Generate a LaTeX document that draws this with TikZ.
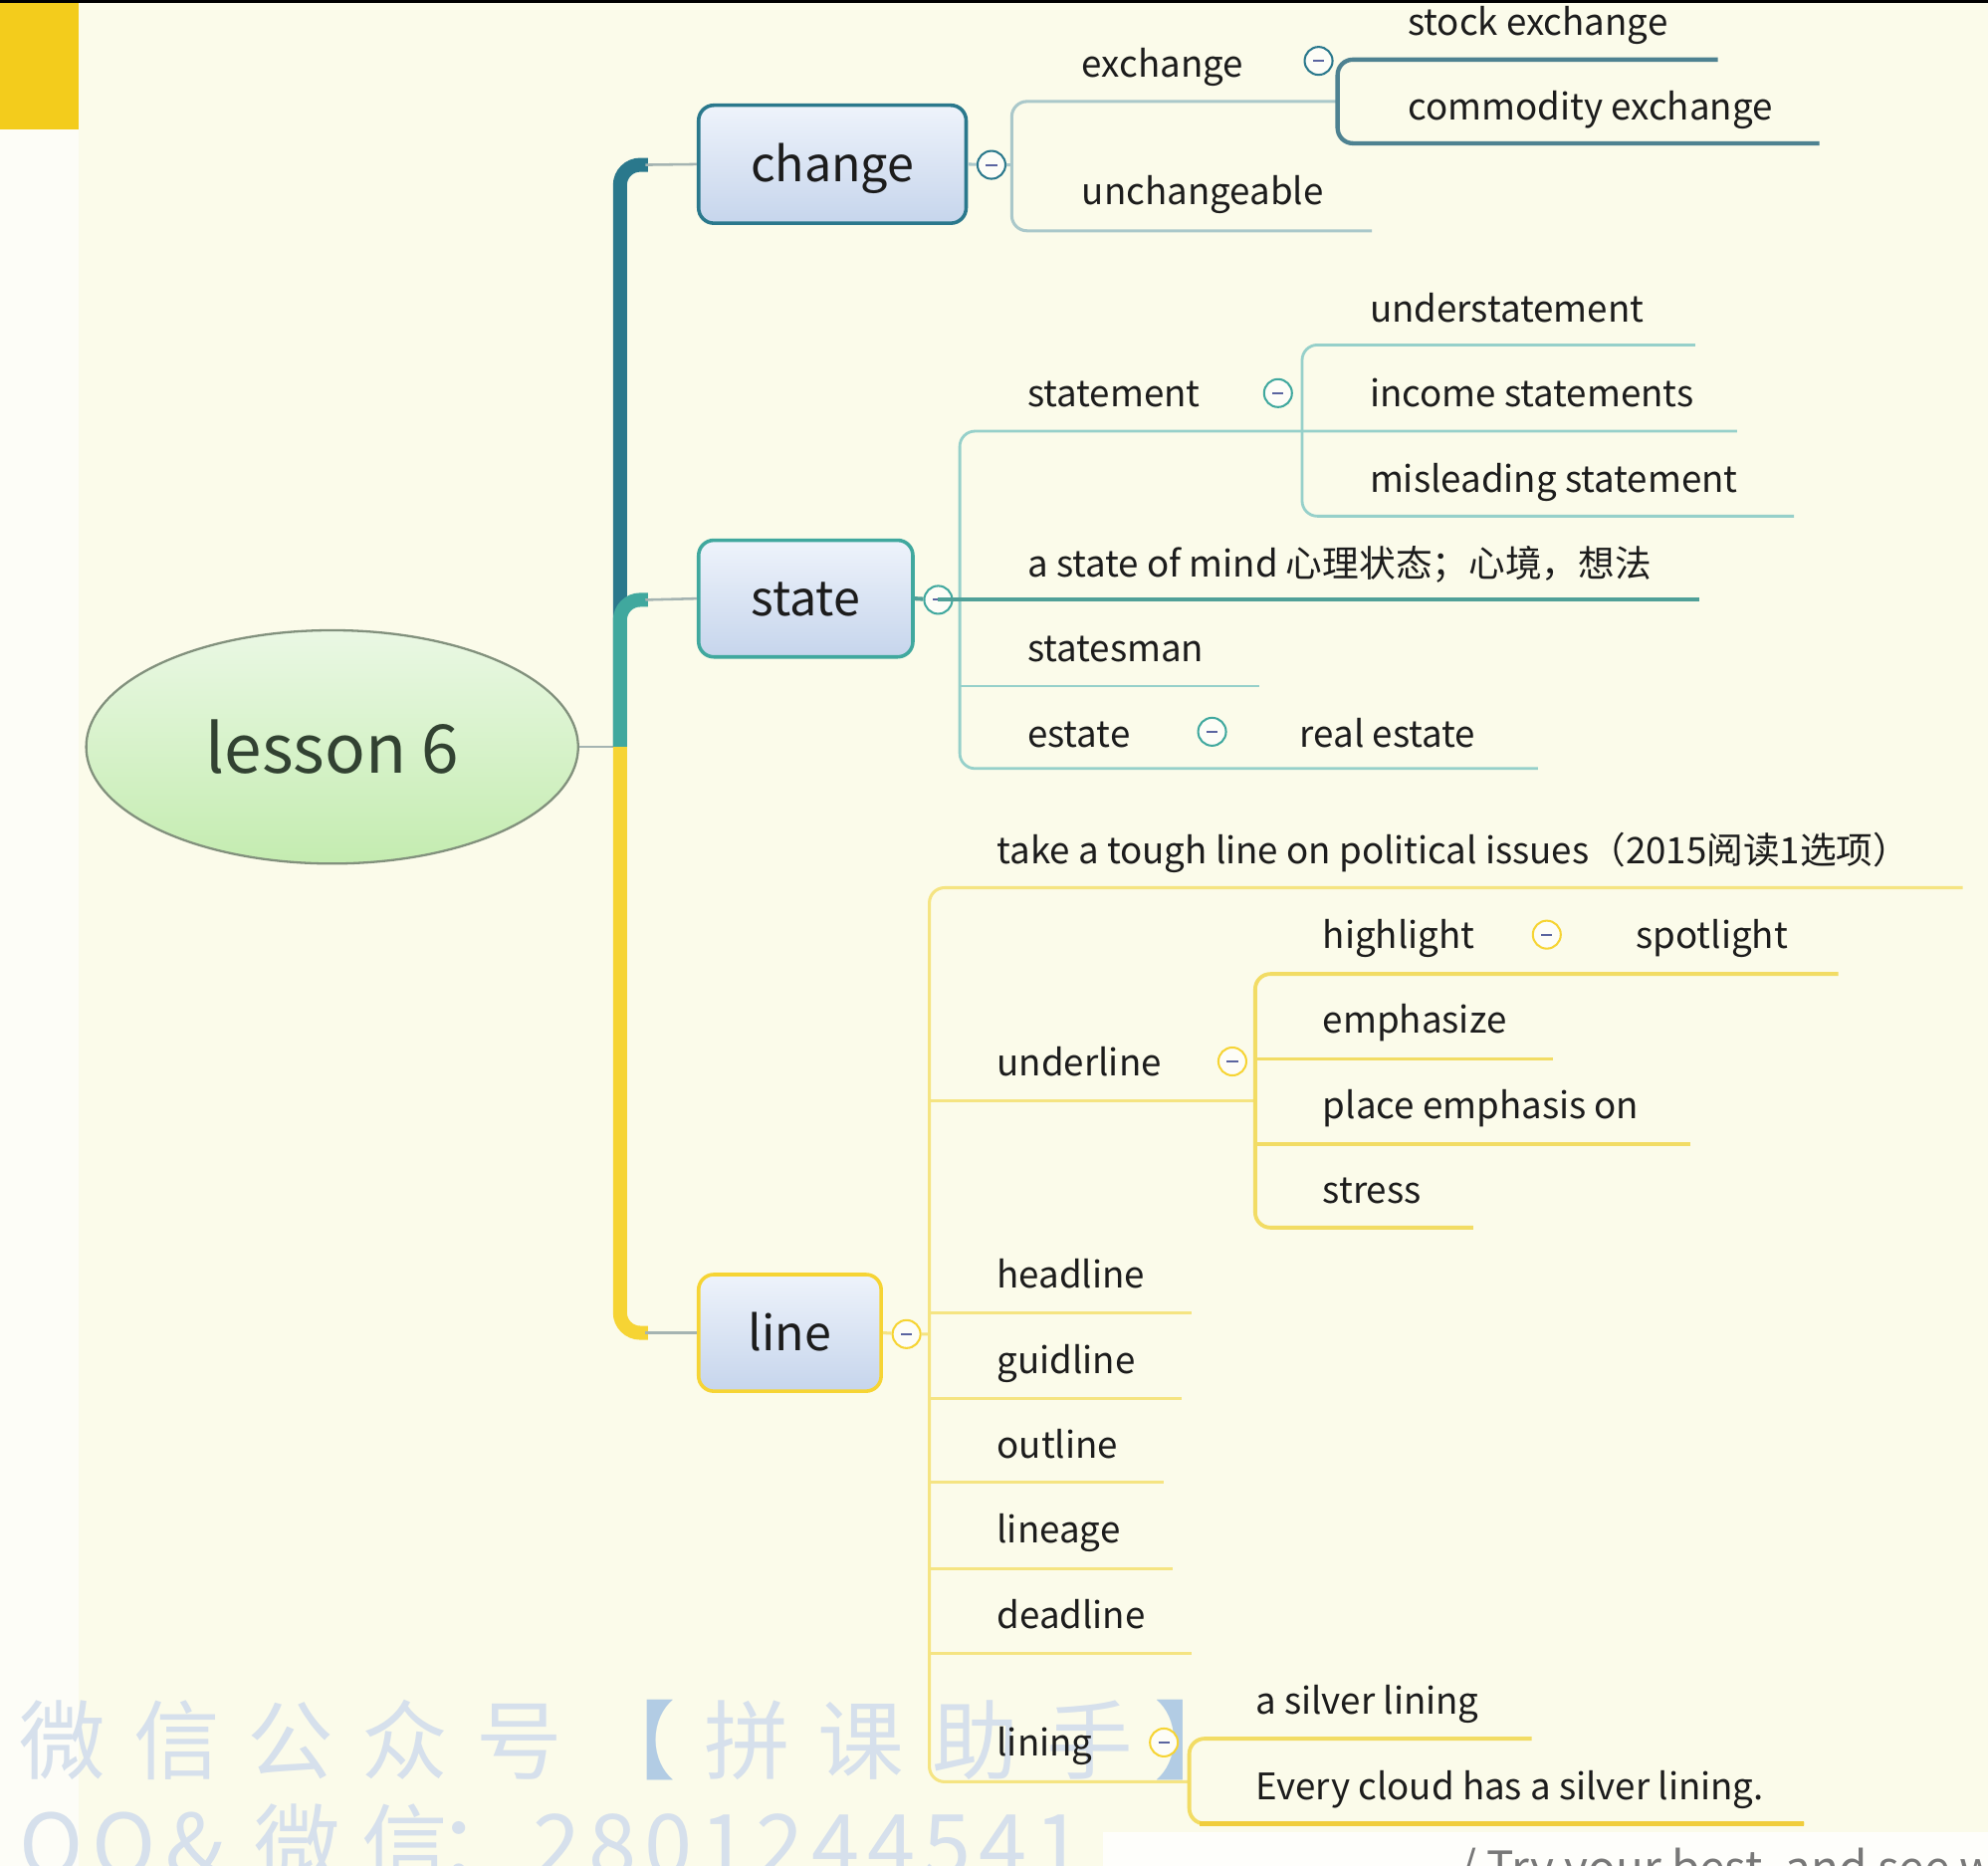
\documentclass[tikz,border=0pt]{standalone}
\usepackage{fontspec}
\setmainfont{Noto Sans CJK SC}
\usetikzlibrary{shapes.geometric}
\definecolor{cream}{RGB}{251,251,234}
\definecolor{leftw}{RGB}{253,253,247}
\definecolor{ybox}{RGB}{243,204,28}
\definecolor{txtc}{RGB}{28,28,28}
\definecolor{chgc}{RGB}{42,120,140}
\definecolor{stc}{RGB}{64,168,158}
\definecolor{lnc}{RGB}{246,212,52}
\definecolor{linkc}{RGB}{165,180,178}
\definecolor{cA}{RGB}{170,200,202}
\definecolor{cB}{RGB}{78,130,145}
\definecolor{sA}{RGB}{150,208,202}
\definecolor{sB}{RGB}{80,160,152}
\definecolor{lA}{RGB}{245,228,130}
\definecolor{lB}{RGB}{242,220,100}
\definecolor{lC}{RGB}{240,205,60}
\definecolor{boxtop}{RGB}{238,243,251}
\definecolor{boxbot}{RGB}{198,213,236}
\definecolor{elltop}{RGB}{234,248,228}
\definecolor{ellbot}{RGB}{196,236,176}
\definecolor{ellb}{RGB}{130,145,125}
\definecolor{elltxt}{RGB}{50,66,50}
\definecolor{wmc}{RGB}{214,224,236}
\definecolor{wmb}{RGB}{178,204,228}
\definecolor{minc}{RGB}{90,100,160}
\definecolor{greyt}{RGB}{120,120,120}
\newcommand\myul[5]{\coordinate (#2a) at (#3,#5); \coordinate (#2b) at (#4,#5); \draw[#1] (#2a) -- (#2b);}
\begin{document}
\begin{tikzpicture}[x=0.5pt, y=-0.5pt,
  txt/.style={anchor=west, inner sep=0pt, text=txtc, font=\fontsize{14.4pt}{17pt}\selectfont, text height=13pt, text depth=2pt},
  topic/.style={draw=#1, rounded corners=6pt, line width=1.4pt, top color=boxtop, bottom color=boxbot, inner sep=0pt, text=txtc, font=\fontsize{19pt}{22pt}\selectfont, text height=16pt, text depth=2.3pt},
  coll/.style={circle, draw=#1, fill=cream!40!white, line width=0.8pt, minimum size=11pt, inner sep=0pt,
    path picture={\draw[minc, line width=0.8pt] ([xshift=-2.2pt]path picture bounding box.center) -- ([xshift=2.2pt]path picture bounding box.center);}},
  cl1/.style={cA, line width=1.2pt},
  cl2/.style={cB, line width=1.7pt},
  sl1/.style={sA, line width=1.1pt},
  sl2/.style={sB, line width=1.6pt},
  ll1/.style={lA, line width=1.2pt},
  ll2/.style={lB, line width=1.5pt},
  ll3/.style={lC, line width=2.2pt},
  wm/.style={anchor=base west, inner sep=0pt, text=wmc, font=\fontsize{34pt}{40pt}\selectfont},
  wmbr/.style={wm, text=wmb},
  link/.style={draw=linkc, line width=1pt}
]
\useasboundingbox (0,0) rectangle (1568,1471.4);
% background
\fill[cream] (0,0) rectangle (1568,1471.4);
\fill[leftw] (0,0) rectangle (62,1471.4);
\fill[white!80!cream] (870,1445) rectangle (1568,1471.4);
\fill[ybox] (0,0) rectangle (62,102);
\fill[black] (0,0) rectangle (1568,2.5);
% watermark
\foreach \c/\x [count=\i] in {微/15, 信/105, 公/195, 众/285, 号/375, 拼/555, 课/645, 助/735, 手/825}
  \node[wm] (wma\i) at (\x,1398) {\c};
\node[wmbr] (wmL) at (465,1398) {【};
\node[wmbr] (wmR) at (910,1398) {】};
\foreach \c/\x [count=\i] in {Q/15, Q/72, \&/130, 微/200, 信/285, ：/345}
  \node[wm] (wmb\i) at (\x,1480) {\c};
\foreach \c [count=\i] in {2,8,0,1,2,4,4,5,4,1}
  \node[wm] (wmd\i) at ({420+44*(\i-1)},1480) {\c};
\node[anchor=base west, inner sep=0pt, text=greyt, font=\fontsize{18pt}{20pt}\selectfont] (motto) at (1150,1486) {/ Try your best, and see what};

% root
\node[ellipse, draw=ellb, line width=0.9pt, top color=elltop, bottom color=ellbot, minimum width=194pt, minimum height=92pt, inner sep=0pt, text=elltxt, font=\fontsize{26.5pt}{30pt}\selectfont] (root) at (262,589) {lesson 6};
\coordinate (hub) at (489,589);
\draw[link] (root.east) -- (hub);

% topic boxes
\node[topic=chgc, minimum width=105.5pt, minimum height=46.5pt] (change) at (656.5,129.5) {change};
\node[topic=stc, minimum width=84.5pt, minimum height=46pt] (state) at (635.5,472) {state};
\node[topic=lnc, minimum width=72pt, minimum height=46pt] (line) at (623,1051) {line};

% main branches
\coordinate (cC) at (489,130);
\coordinate (cS) at (489,473);
\coordinate (cL) at (489,1051);
\draw[chgc, line width=5.5pt, rounded corners=8pt] (hub) -- (cC) -- ++(22,0);
\draw[stc, line width=5.5pt, rounded corners=8pt] (hub) -- (cS) -- ++(22,0);
\draw[lnc, line width=5.5pt, rounded corners=8pt] (hub) -- (cL) -- ++(22,0);
\draw[link] ([xshift=10pt]cC) -- (change.west);
\draw[link] ([xshift=10pt]cS) -- (state.west);
\draw[link] ([xshift=10pt]cL) -- (line.west);

% collapse circles
\node[coll=chgc] (kC) at (782,130) {};
\node[coll=stc] (kS) at (740,473) {};
\node[coll=lnc] (kL) at (715,1052) {};
\node[coll=chgc] (kEx) at (1040,48) {};
\node[coll=stc] (kSt) at (1008,310) {};
\node[coll=stc] (kEs) at (956,577) {};
\node[coll=lnc] (kHi) at (1220,737) {};
\node[coll=lnc] (kUl) at (972,837) {};
\node[coll=lnc] (kLi) at (918,1374) {};

% ---- change subtree
\coordinate (vC1) at (798,80);
\coordinate (vC2) at (798,182);
\coordinate (vCm) at (798,130);
\coordinate (exJ) at (1055,80);
\coordinate (unE) at (1082,182);
\draw[cl1] (change.east) -- (kC) -- (vCm);
\draw[cl1, rounded corners=6pt] (exJ) -- (vC1) -- (vC2) -- (unE);
\coordinate (stE) at (1355,47);
\coordinate (exT) at (1055,47);
\coordinate (exB) at (1055,113);
\coordinate (coE) at (1435,113);
\draw[cl2, rounded corners=6pt] (stE) -- (exT) -- (exB) -- (coE);
\node[txt] (exch) at (853,50) {exchange};
\node[txt] (unch) at (853,150) {unchangeable};
\node[txt] (stock) at (1110,17) {stock exchange};
\node[txt] (comm) at (1110,84) {commodity exchange};

% ---- state subtree
\coordinate (vS1) at (757,340);
\coordinate (vS2) at (757,606);
\coordinate (inE) at (1370,340);
\coordinate (reE) at (1213,606);
\draw[sl1, rounded corners=6pt] (inE) -- (vS1) -- (vS2) -- (reE);
\draw[sl2] (state.east) -- (kS);
\myul{sl2}{mindl}{740}{1340}{473}
\myul{sl1}{smanl}{757}{993}{541}
\coordinate (vT1) at (1027,272);
\coordinate (vT2) at (1027,407);
\coordinate (udE) at (1337,272);
\coordinate (miE) at (1415,407);
\draw[sl1, rounded corners=6pt] (udE) -- (vT1) -- (vT2) -- (miE);
\node[txt] (stmt) at (810,310) {statement};
\node[txt] (under) at (1080,243) {understatement};
\node[txt] (income) at (1080,310) {income statements};
\node[txt] (misl) at (1080,377) {misleading statement};
\node[txt] (mind) at (810,444) {a state of mind 心理状态；心境，想法};
\node[txt] (sman) at (810,511) {statesman};
\node[txt] (est) at (810,578) {estate};
\node[txt] (real) at (1025,578) {real estate};

% ---- line subtree
\coordinate (vL1) at (733,700);
\coordinate (vL2) at (733,1405);
\coordinate (toE) at (1548,700);
\coordinate (liJ) at (938,1405);
\draw[ll1] (line.east) -- (kL) -- (733,1052);
\draw[ll1, rounded corners=6pt] (toE) -- (vL1) -- (vL2) -- (liJ);
\myul{ll1}{ulinel}{733}{990}{868}
\myul{ll1}{headl}{733}{940}{1035}
\myul{ll1}{guidl}{733}{932}{1103}
\myul{ll1}{outl}{733}{918}{1169}
\myul{ll1}{linl}{733}{925}{1237}
\myul{ll1}{deadl}{733}{940}{1304}
\coordinate (vU1) at (990,768);
\coordinate (vU2) at (990,968);
\coordinate (hiE) at (1450,768);
\coordinate (srE) at (1162,968);
\draw[ll2, rounded corners=6pt] (hiE) -- (vU1) -- (vU2) -- (srE);
\myul{ll2}{emphl}{990}{1225}{835}
\myul{ll2}{placel}{990}{1333}{902}
\coordinate (vN1) at (938,1371);
\coordinate (vN2) at (938,1438);
\coordinate (siE) at (1208,1371);
\coordinate (evE) at (1423,1438);
\draw[ll2, rounded corners=6pt] (siE) -- (vN1) -- (vN2) -- (evE);
\draw[ll3] ([xshift=4pt]vN2) -- (evE);
\node[txt] (tough) at (786,670) {take a tough line on political issues（2015阅读1选项）};
\node[txt] (uline) at (786,837) {underline};
\node[txt] (high) at (1043,737) {highlight};
\node[txt] (spot) at (1290,737) {spotlight};
\node[txt] (emph) at (1043,804) {emphasize};
\node[txt] (place) at (1043,871) {place emphasis on};
\node[txt] (stress) at (1043,938) {stress};
\node[txt] (head) at (786,1005) {headline};
\node[txt] (guid) at (786,1072) {guidline};
\node[txt] (outl) at (786,1139) {outline};
\node[txt] (lineage) at (786,1206) {lineage};
\node[txt] (dead) at (786,1273) {deadline};
\node[txt] (lining) at (786,1374) {lining};
\node[txt] (silver) at (990,1341) {a silver lining};
\node[txt] (every) at (990,1408) {Every cloud has a silver lining.};
\end{tikzpicture}
\end{document}
